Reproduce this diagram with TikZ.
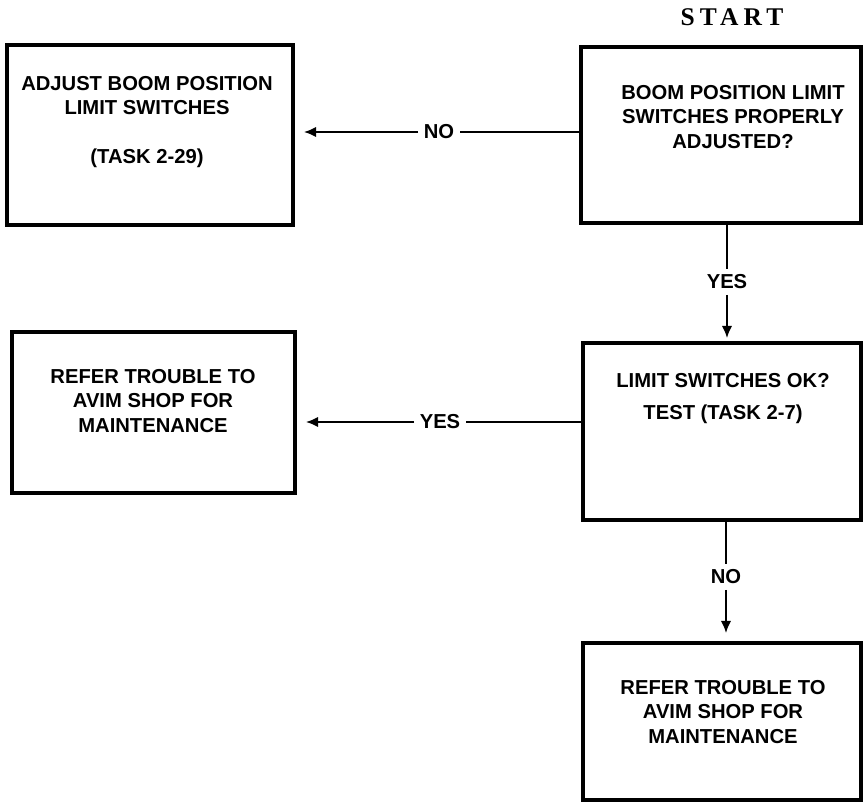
\documentclass[tikz,border=0pt]{standalone}
\usepackage{fontspec}
\setmainfont{Liberation Sans}
\newfontfamily\startfont[LetterSpace=20]{Liberation Serif}
\usetikzlibrary{arrows.meta}

\tikzset{
  box/.style={draw, line width=2pt, rectangle},
  txt/.style={align=center, font=\bfseries\fontsize{11.5}{13.7}\selectfont},
  lbl/.style={font=\bfseries\fontsize{11.5}{13.7}\selectfont, inner sep=3pt},
  line/.style={line width=1.6pt},
  arr/.style={line width=1.6pt, -{Latex[length=7pt,width=6pt]}}
}

\begin{document}
\begin{tikzpicture}[x=0.02cm, y=-0.02cm]
\useasboundingbox (0,0) rectangle (863,803);

% Start
\node[font=\startfont\bfseries\fontsize{14.5}{17}\selectfont] (start) at (732,17) {START};

% Boxes
\node[box, minimum width=5.6cm, minimum height=3.52cm] (q1) at (721,135) {};
\node[box, minimum width=5.72cm, minimum height=3.6cm] (adj) at (150,135) {};
\node[box, minimum width=5.56cm, minimum height=3.54cm] (q2) at (722,431.5) {};
\node[box, minimum width=5.66cm, minimum height=3.22cm] (ref1) at (153.5,412.5) {};
\node[box, minimum width=5.56cm, minimum height=3.14cm] (ref2) at (722,721.5) {};

% Box texts
\node[txt] (q1t) at (733,117) {BOOM POSITION LIMIT\\SWITCHES PROPERLY\\ADJUSTED?};
\node[txt] (adjt) at (147,122) {ADJUST BOOM POSITION\\LIMIT SWITCHES\\ \\(TASK 2-29)};
\node[txt] (q2t) at (723,399) {LIMIT SWITCHES OK?\\[0.16cm]TEST (TASK 2-7)};
\node[txt] (ref1t) at (153,401) {REFER TROUBLE TO\\AVIM SHOP FOR\\MAINTENANCE};
\node[txt] (ref2t) at (723,712) {REFER TROUBLE TO\\AVIM SHOP FOR\\MAINTENANCE};

% Labels
\node[lbl] (no1) at (439,132) {NO};
\node[lbl] (yes1) at (727,282) {YES};
\node[lbl] (yes2) at (440,422) {YES};
\node[lbl] (no2) at (726,577) {NO};

% Not adjusted
\draw[line] (q1.west |- no1) -- (no1.east);
\draw[arr, shorten >=0.18cm] (no1.west) -- (adj.east |- no1);

% Adjusted
\draw[line] (q1.south -| yes1) -- (yes1.north);
\draw[arr, shorten >=0.06cm] (yes1.south) -- (q2.north -| yes1);

% Switches ok
\draw[line] (q2.west |- yes2) -- (yes2.east);
\draw[arr, shorten >=0.18cm] (yes2.west) -- (ref1.east |- yes2);

% Switches not ok
\draw[line] (q2.south -| no2) -- (no2.north);
\draw[arr, shorten >=0.16cm] (no2.south) -- (ref2.north -| no2);

\end{tikzpicture}
\end{document}
